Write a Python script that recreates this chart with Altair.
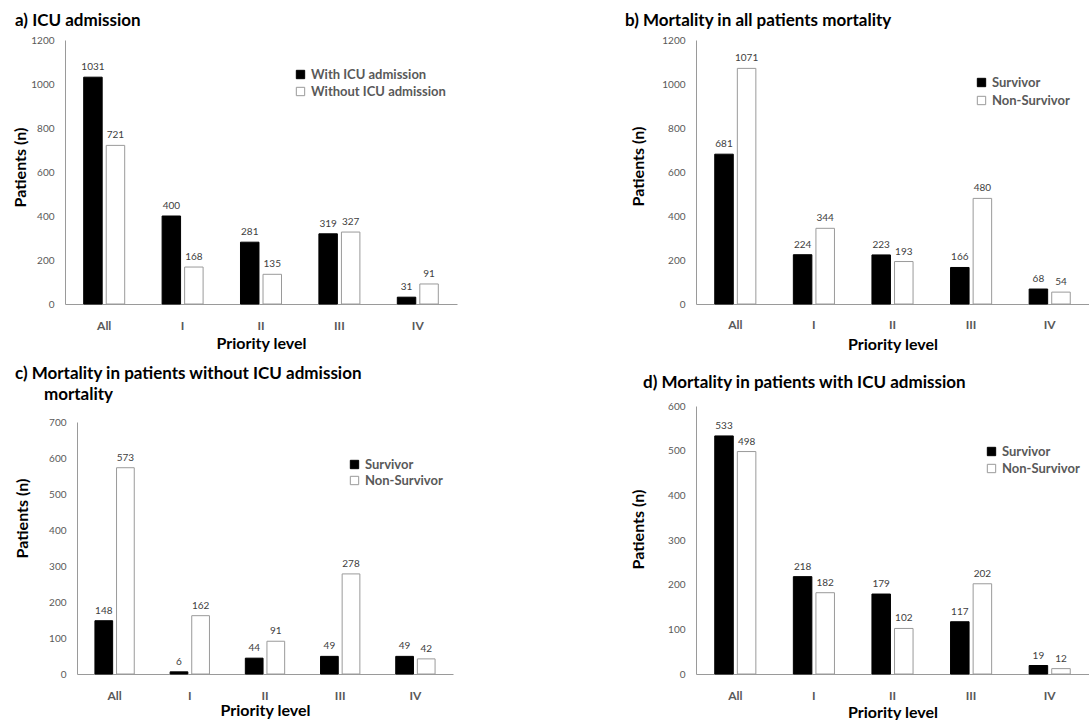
import altair as alt
import pandas as pd

levels = ["All", "I", "II", "III", "IV"]

a_groups = ["With ICU admission", "Without ICU admission"]
a_with = [1031, 400, 281, 319, 31]
a_without = [721, 168, 135, 327, 91]

surv_groups = ["Survivor", "Non-Survivor"]
b_surv = [681, 224, 223, 166, 68]
b_non = [1071, 344, 193, 480, 54]

c_surv = [148, 6, 44, 49, 49]
c_non = [573, 162, 91, 278, 42]

d_surv = [533, 218, 179, 117, 19]
d_non = [498, 182, 102, 202, 12]

FONT = "Lato"
AXIS_GRAY = "#9a9a9a"
LABEL_GRAY = "#595959"


def make_df(groups, s1, s2):
    rows = []
    for lv, v in zip(levels, s1):
        rows.append({"level": lv, "group": groups[0], "value": v})
    for lv, v in zip(levels, s2):
        rows.append({"level": lv, "group": groups[1], "value": v})
    return pd.DataFrame(rows)


def panel(df, groups, ymax, ystep, width, height, title, title_dx, title_offset,
          leg_x, leg_y, leg_row_pad, ytitle_x, ytitle_y, x_label_pad, x_title_pad,
          x_range=None, y_range=None, y_axis_offset=0):
    xscale = dict(type="band", domain=levels, paddingInner=0, paddingOuter=0)
    if x_range is not None:
        xscale["range"] = x_range
    yscale = dict(domain=[0, ymax], nice=False)
    if y_range is not None:
        yscale["range"] = y_range
    x = alt.X(
        "level:N",
        sort=levels,
        scale=alt.Scale(**xscale),
        axis=alt.Axis(
            title="Priority level",
            labelAngle=0,
            ticks=False,
            tickSize=0,
            domainColor=AXIS_GRAY,
            domainWidth=1,
            labelFont=FONT,
            labelFontSize=12,
            labelFontWeight="bold",
            labelColor=LABEL_GRAY,
            labelPadding=x_label_pad,
            titleFont=FONT,
            titleFontSize=16,
            titleFontWeight="bold",
            titleColor="black",
            titlePadding=x_title_pad,
        ),
    )
    y = alt.Y(
        "value:Q",
        scale=alt.Scale(**yscale),
        axis=alt.Axis(
            title="Patients (n)",
            values=list(range(0, ymax + 1, ystep)),
            format="d",
            labelOverlap=False,
            grid=False,
            ticks=False,
            tickSize=0,
            offset=y_axis_offset,
            domainColor=AXIS_GRAY,
            domainWidth=1,
            labelFont=FONT,
            labelFontSize=10,
            labelColor=LABEL_GRAY,
            labelPadding=11,
            titleFont=FONT,
            titleFontSize=16,
            titleFontWeight="bold",
            titleColor="black",
            titleX=ytitle_x,
            titleY=ytitle_y,
            titleBaseline="middle",
            titleAngle=270,
        ),
    )
    xoff = alt.XOffset(
        "group:N",
        sort=groups,
        scale=alt.Scale(type="band", domain=groups, paddingInner=0.18, paddingOuter=0.83),
    )
    bars = alt.Chart(df).mark_bar(strokeWidth=1).encode(
        x=x,
        xOffset=xoff,
        y=y,
        fill=alt.Fill(
            "group:N",
            sort=groups,
            scale=alt.Scale(domain=groups, range=["black", "white"]),
            legend=alt.Legend(
                title=None,
                orient="none",
                legendX=leg_x,
                legendY=leg_y,
                direction="vertical",
                symbolType="square",
                symbolSize=70,
                symbolStrokeColor=AXIS_GRAY,
                symbolStrokeWidth=1,
                labelFont=FONT,
                labelFontSize=13,
                labelFontWeight="bold",
                labelColor=LABEL_GRAY,
                labelOffset=4,
                rowPadding=leg_row_pad,
                labelLimit=300,
            ),
        ),
        stroke=alt.Stroke(
            "group:N",
            sort=groups,
            scale=alt.Scale(domain=groups, range=["black", AXIS_GRAY]),
            legend=None,
        ),
    )
    labels = alt.Chart(df).mark_text(
        baseline="bottom", dy=-5, font=FONT, fontSize=10, color="#404040"
    ).encode(
        x=x,
        xOffset=xoff,
        y=y,
        text=alt.Text("value:Q"),
    )
    return alt.layer(bars, labels).properties(
        width=width,
        height=height,
        title=alt.TitleParams(
            text=title,
            anchor="start",
            frame="group",
            dx=title_dx,
            offset=title_offset,
            font=FONT,
            fontSize=17,
            fontWeight="bold",
            color="black",
            lineHeight=21,
        ),
    )


pa = panel(make_df(a_groups, a_with, a_without), a_groups, 1200, 200, 392, 264,
           "a) ICU admission", -50, 5, 229, 28, 3, -45, 127, 16, 4)
pb = panel(make_df(surv_groups, b_surv, b_non), surv_groups, 1200, 200, 393, 264,
           "b) Mortality in all patients mortality", -71, 5, 279, 36, 4, -58, 126, 15, 6)
pc = panel(make_df(surv_groups, c_surv, c_non), surv_groups, 700, 100, 388, 268,
           ["c) Mortality in patients without ICU admission",
            "\u200b" + "\u00a0" * 7 + "mortality"], -50, 2, 283, 52, 2, -55, 112, 16, 1,
           x_range=[12, 388], y_range=[268, 16], y_axis_offset=-12)
pd_ = panel(make_df(surv_groups, d_surv, d_non), surv_groups, 600, 100, 393, 268,
            "d) Mortality in patients with ICU admission", -53, 9, 289, 39, 3, -58, 123, 16, 3)

chart = alt.concat(
    pa, pb, pc, pd_, columns=2, bounds="flush", spacing={"row": 102, "column": 239}
).resolve_scale(
    x="independent", y="independent", xOffset="independent",
    fill="independent", stroke="independent"
).properties(
    padding={"left": 12, "top": 12, "right": 0, "bottom": 0},
    background="white",
).configure_view(stroke=None)

chart.save("out.html", embed_options={"renderer": "svg", "actions": False})
